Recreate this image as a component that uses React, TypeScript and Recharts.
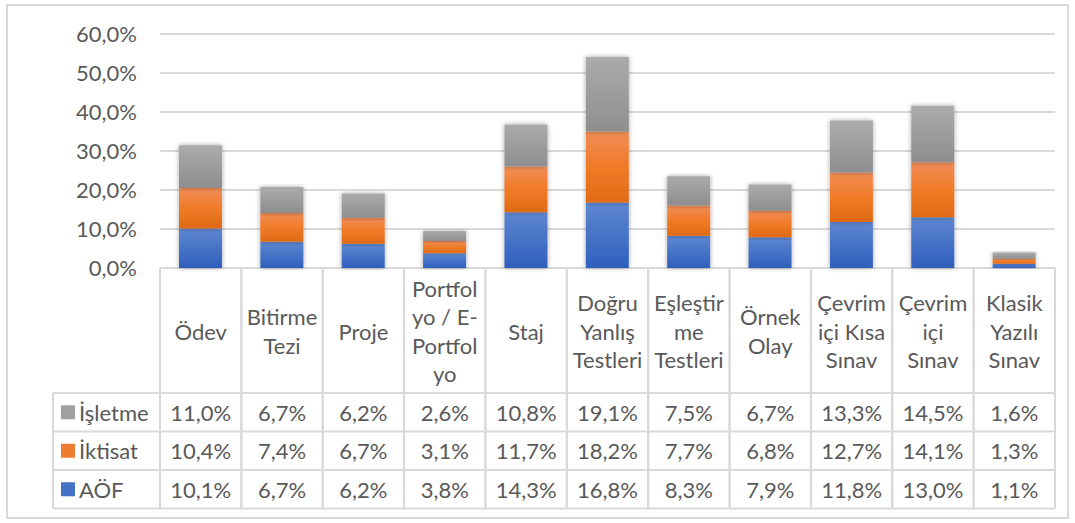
import { BarChart, Bar, XAxis, YAxis, CartesianGrid } from 'recharts';

const categories = [
  'Ödev',
  'Bitirme Tezi',
  'Proje',
  'Portfolyo / E-Portfolyo',
  'Staj',
  'Doğru Yanlış Testleri',
  'Eşleştirme Testleri',
  'Örnek Olay',
  'Çevrimiçi Kısa Sınav',
  'Çevrimiçi Sınav',
  'Klasik Yazılı Sınav',
];

// header lines as they wrap inside the table cells
const categoryLines = [
  ['Ödev'],
  ['Bitirme', 'Tezi'],
  ['Proje'],
  ['Portfol', 'yo / E-', 'Portfol', 'yo'],
  ['Staj'],
  ['Doğru', 'Yanlış', 'Testleri'],
  ['Eşleştir', 'me', 'Testleri'],
  ['Örnek', 'Olay'],
  ['Çevrim', 'içi Kısa', 'Sınav'],
  ['Çevrim', 'içi', 'Sınav'],
  ['Klasik', 'Yazılı', 'Sınav'],
];

const isletme = [11.0, 6.7, 6.2, 2.6, 10.8, 19.1, 7.5, 6.7, 13.3, 14.5, 1.6];
const iktisat = [10.4, 7.4, 6.7, 3.1, 11.7, 18.2, 7.7, 6.8, 12.7, 14.1, 1.3];
const aof = [10.1, 6.7, 6.2, 3.8, 14.3, 16.8, 8.3, 7.9, 11.8, 13.0, 1.1];

const yTicks = [0, 10, 20, 30, 40, 50, 60];

// table rows, top to bottom
const series = [
  { key: 'isletme', name: 'İşletme', values: isletme, swatch: '#a0a0a0' },
  { key: 'iktisat', name: 'İktisat', values: iktisat, swatch: '#ee7d31' },
  { key: 'aof', name: 'AÖF', values: aof, swatch: '#4472c4' },
];

const data = categories.map((name, i) => ({
  name,
  aof: aof[i],
  iktisat: iktisat[i],
  isletme: isletme[i],
}));

const W = 1075;
const H = 523;
const Y_AXIS_W = 160;
const M_RIGHT = 20;
const PLOT_W = W - Y_AXIS_W - M_RIGHT;
const FONT = 'Lato, "Open Sans", sans-serif';
const FONT_SIZE = 22;
const TEXT = '#595959';
const LINE = '#d9d9d9';

const HEADER_H = 125;
const ROW_H = 38.5;
const LEGEND_LEFT = 53;

const fmt = (v: number) => v.toFixed(1).replace('.', ',') + '%';

function TableColumn(props: any) {
  const { x, y, index } = props;
  const band = PLOT_W / categories.length;
  const left = x - band / 2;
  const right = x + band / 2;
  const lines: string[] = categoryLines[index];
  const headerMid = y + HEADER_H / 2;
  const lh = 28.5;
  const rowTop = (r: number) => y + HEADER_H + r * ROW_H;
  const bottom = rowTop(series.length);

  return (
    <g fontFamily={FONT} fontSize={FONT_SIZE} fill={TEXT}>
      <line x1={left} x2={left} y1={y} y2={bottom} stroke={LINE} strokeWidth={2} />
      <line x1={right} x2={right} y1={y} y2={bottom} stroke={LINE} strokeWidth={2} />
      {[0, 1, 2, 3].map((r) => (
        <line key={r} x1={left} x2={right} y1={rowTop(r)} y2={rowTop(r)} stroke={LINE} strokeWidth={2} />
      ))}
      <text x={x} textAnchor="middle" dominantBaseline="central">
        {lines.map((l, k) => (
          <tspan key={k} x={x} y={headerMid + (k - (lines.length - 1) / 2) * lh}>
            {l}
          </tspan>
        ))}
      </text>
      {series.map((s, r) => (
        <text
          key={s.key}
          x={x}
          y={rowTop(r) + ROW_H / 2}
          textAnchor="middle"
          dominantBaseline="central"
        >
          {fmt(s.values[index])}
        </text>
      ))}
      {index === 0 && (
        <g>
          <line x1={LEGEND_LEFT} x2={LEGEND_LEFT} y1={rowTop(0)} y2={bottom} stroke={LINE} strokeWidth={2} />
          {[0, 1, 2, 3].map((r) => (
            <line key={r} x1={LEGEND_LEFT} x2={left} y1={rowTop(r)} y2={rowTop(r)} stroke={LINE} strokeWidth={2} />
          ))}
          {series.map((s, r) => (
            <g key={s.key}>
              <rect x={61} y={rowTop(r) + ROW_H / 2 - 7} width={14} height={14} fill={s.swatch} />
              <text x={79} y={rowTop(r) + ROW_H / 2} dominantBaseline="central">
                {s.name}
              </text>
            </g>
          ))}
        </g>
      )}
    </g>
  );
}

export default function App() {
  return (
    <div style={{ position: 'absolute', left: 0, top: 0, width: W, height: H, background: '#fff' }}>
      <svg width={W} height={H} style={{ position: 'absolute', left: 0, top: 0 }}>
        <rect x={7} y={5} width={1061} height={513} fill="#fff" stroke={LINE} strokeWidth={2} />
      </svg>
      <div style={{ position: 'absolute', left: 0, top: 0 }}>
        <BarChart
          width={W}
          height={H}
          data={data}
          margin={{ top: 34, right: M_RIGHT, bottom: 15, left: 0 }}
          barSize={43}
        >
          <defs>
            <linearGradient id="gGray" x1="0" y1="0" x2="0" y2="1">
              <stop offset="0%" stopColor="#ababab" />
              <stop offset="100%" stopColor="#8e8e8e" />
            </linearGradient>
            <linearGradient id="gOrange" x1="0" y1="0" x2="0" y2="1">
              <stop offset="0%" stopColor="#f18d58" />
              <stop offset="50%" stopColor="#f07b27" />
              <stop offset="100%" stopColor="#df6a16" />
            </linearGradient>
            <linearGradient id="gBlue" x1="0" y1="0" x2="0" y2="1">
              <stop offset="0%" stopColor="#5f87d1" />
              <stop offset="100%" stopColor="#2e5fbc" />
            </linearGradient>
            <filter id="barShadow" x="-30%" y="-10%" width="160%" height="120%">
              <feDropShadow dx="0" dy="0" stdDeviation="2.5" floodColor="#000" floodOpacity="0.35" />
            </filter>
          </defs>
          <CartesianGrid vertical={false} stroke={LINE} strokeWidth={2} />
          <XAxis
            dataKey="name"
            axisLine={false}
            tickLine={false}
            tickSize={0}
            tickMargin={0}
            height={240}
            interval={0}
            tick={<TableColumn />}
          />
          <YAxis
            width={Y_AXIS_W}
            domain={[0, 60]}
            ticks={yTicks}
            axisLine={false}
            tickLine={false}
            tickSize={0}
            tickMargin={23}
            tickFormatter={fmt}
            tick={{ fill: TEXT, fontSize: FONT_SIZE, fontFamily: FONT }}
          />
          <Bar dataKey="aof" name="AÖF" stackId="a" fill="url(#gBlue)" filter="url(#barShadow)" isAnimationActive={false} />
          <Bar dataKey="iktisat" name="İktisat" stackId="a" fill="url(#gOrange)" filter="url(#barShadow)" isAnimationActive={false} />
          <Bar dataKey="isletme" name="İşletme" stackId="a" fill="url(#gGray)" filter="url(#barShadow)" isAnimationActive={false} />
        </BarChart>
      </div>
    </div>
  );
}
